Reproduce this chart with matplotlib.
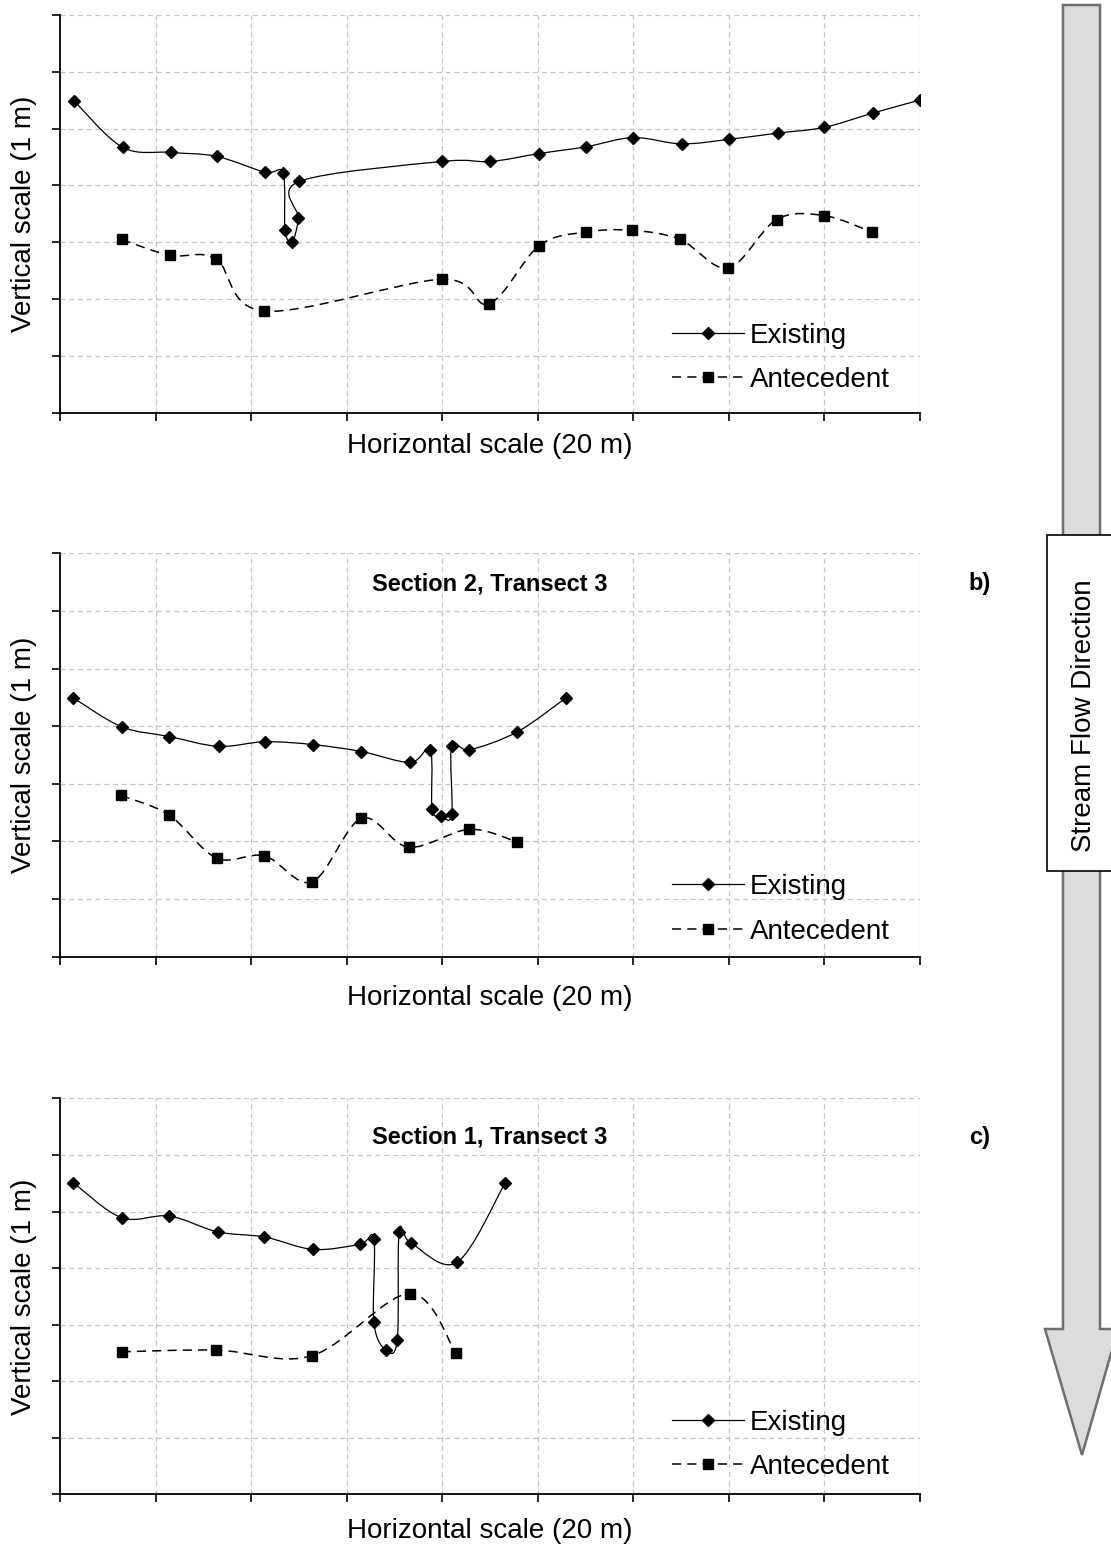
import numpy as np
import matplotlib.pyplot as plt
from matplotlib.path import Path
from matplotlib.patches import PathPatch, Polygon, Rectangle
from matplotlib.lines import Line2D

plt.rcParams['font.family'] = ['Liberation Sans', 'DejaVu Sans']

# ---------- dados (x e y em metros) ----------
# painel a) (sem titulo visivel)
a_exist_x = [2.9, 13.1, 23.2, 32.8, 42.9, 46.7, 47.1, 48.6, 49.9, 50.1, 79.9,
             90.1, 100.3, 110.2, 120.0, 130.1, 140.1, 150.3, 160.0, 170.1, 180.0]
a_exist_y = [5.49, 4.67, 4.58, 4.51, 4.23, 4.21, 3.21, 3.01, 3.42, 4.07, 4.42,
             4.42, 4.56, 4.68, 4.84, 4.73, 4.81, 4.92, 5.02, 5.27, 5.50]
a_ante_x = [12.9, 23.0, 32.6, 42.8, 79.9, 89.8, 100.3, 110.1, 119.8, 129.8,
            139.9, 150.0, 159.9, 170.0]
a_ante_y = [3.05, 2.77, 2.71, 1.79, 2.35, 1.92, 2.94, 3.18, 3.21, 3.05,
            2.55, 3.40, 3.47, 3.18]

# painel b) Section 2, Transect 3
b_exist_x = [2.8, 12.9, 22.9, 33.2, 42.9, 53.0, 63.1, 73.3, 77.5, 77.9, 79.8,
             82.0, 82.0, 85.7, 95.7, 105.9]
b_exist_y = [4.49, 3.99, 3.82, 3.65, 3.73, 3.68, 3.56, 3.37, 3.59, 2.56, 2.44,
             2.47, 3.66, 3.59, 3.90, 4.49]
b_ante_x = [12.7, 22.8, 32.8, 42.8, 52.8, 63.1, 73.0, 85.7, 95.7]
b_ante_y = [2.80, 2.46, 1.71, 1.75, 1.30, 2.40, 1.90, 2.21, 1.99]

# painel c) Section 1, Transect 3
c_exist_x = [2.8, 12.9, 22.9, 33.0, 42.8, 53.0, 62.8, 65.7, 65.7, 68.2, 70.6,
             71.0, 73.4, 83.1, 93.2]
c_exist_y = [5.51, 4.89, 4.92, 4.64, 4.55, 4.33, 4.42, 4.51, 3.04, 2.55, 2.73,
             4.64, 4.45, 4.10, 5.51]
c_ante_x = [12.9, 32.7, 52.7, 73.2, 82.9]
c_ante_y = [2.52, 2.55, 2.45, 3.55, 2.49]

panels = [
    dict(ex=a_exist_x, ey=a_exist_y, ax_=a_ante_x, ay=a_ante_y, title=None, tag=None),
    dict(ex=b_exist_x, ey=b_exist_y, ax_=b_ante_x, ay=b_ante_y,
         title='Section 2, Transect 3', tag='b)'),
    dict(ex=c_exist_x, ey=c_exist_y, ax_=c_ante_x, ay=c_ante_y,
         title='Section 1, Transect 3', tag='c)'),
]

# posicoes dos eixos [left, bottom, width, height] e ajustes finos
RECTS = [[0.054, 0.7334, 0.774, 0.2571],
         [0.054, 0.3824, 0.774, 0.2604],
         [0.054, 0.0353, 0.774, 0.2556]]
XLAB_Y = [-0.083, -0.102, -0.093]
LEG_Y = [0.227, 0.205, 0.214]
TITLE_Y = [None, 0.924, 0.902]

FS = 20


def smooth_path(xs, ys):
    """Curva suavizada (tipo Excel): Catmull-Rom convertido em Bezier."""
    pts = np.column_stack([xs, ys]).astype(float)
    n = len(pts)
    verts = [pts[0]]
    codes = [Path.MOVETO]
    for i in range(n - 1):
        p0 = pts[i - 1] if i > 0 else pts[i]
        p1 = pts[i]
        p2 = pts[i + 1]
        p3 = pts[i + 2] if i + 2 < n else pts[i + 1]
        verts += [p1 + (p2 - p0) / 6, p2 - (p3 - p1) / 6, p2]
        codes += [Path.CURVE4] * 3
    return Path(verts, codes)


fig = plt.figure(figsize=(11.11, 15.49), dpi=100)

for k, p in enumerate(panels):
    ax = fig.add_axes(RECTS[k])
    ax.set_xlim(0, 180)
    ax.set_ylim(0, 7)
    ax.set_xticks(np.arange(0, 181, 20))
    ax.set_yticks(np.arange(0, 8, 1))
    ax.tick_params(labelbottom=False, labelleft=False, length=6, width=1.2,
                   direction='out', color='black')
    ax.grid(True, color='#c4c4c4', linestyle=(0, (4, 3)), linewidth=0.9)
    ax.set_axisbelow(True)
    for s in ('top', 'right'):
        ax.spines[s].set_visible(False)
    for s in ('left', 'bottom'):
        ax.spines[s].set_linewidth(1.3)

    # existente: linha continua suavizada + losangos
    ax.add_patch(PathPatch(smooth_path(p['ex'], p['ey']), facecolor='none',
                           edgecolor='black', lw=0.9, zorder=3))
    ax.plot(p['ex'], p['ey'], linestyle='none', marker='D', ms=6.3,
            color='black', zorder=4)
    # antecedente: tracejada suavizada + quadrados
    ax.add_patch(PathPatch(smooth_path(p['ax_'], p['ay']), facecolor='none',
                           edgecolor='black', lw=1.1, linestyle=(0, (6, 4)),
                           zorder=3))
    ax.plot(p['ax_'], p['ay'], linestyle='none', marker='s', ms=7.5,
            color='black', zorder=4)

    handles = [
        Line2D([], [], color='black', lw=0.9, marker='D', ms=6),
        Line2D([], [], color='black', lw=1.1, linestyle=(0, (6, 4)),
               marker='s', ms=7),
    ]
    ax.legend(handles, ['Existing', 'Antecedent'], loc='upper left',
              bbox_to_anchor=(0.712, LEG_Y[k]), frameon=False, fontsize=FS,
              handlelength=2.6, handletextpad=0.2, labelspacing=0.67,
              borderpad=0, borderaxespad=0, numpoints=1)

    ax.text(0.5, XLAB_Y[k], 'Horizontal scale (20 m)', transform=ax.transAxes,
            ha='center', va='center', fontsize=FS)
    ax.text(-0.042, 0.5, 'Vertical scale (1 m)', transform=ax.transAxes,
            ha='center', va='center', rotation=90, fontsize=FS)
    if p['title']:
        ax.text(0.5, TITLE_Y[k], p['title'], transform=ax.transAxes,
                ha='center', va='center', fontsize=17, fontweight='bold')
        ax.text(1.069, TITLE_Y[k], p['tag'], transform=ax.transAxes,
                ha='center', va='center', fontsize=17, fontweight='bold')

# seta da direcao do fluxo (coordenadas em pixels da figura)
ov = fig.add_axes([0, 0, 1, 1], zorder=-1)
ov.set_xlim(0, 1111)
ov.set_ylim(1549, 0)
ov.axis('off')
arrow = [(1063, 5), (1100, 5), (1100, 1329), (1118, 1329), (1082, 1455),
         (1045, 1329), (1063, 1329)]
ov.add_patch(Polygon(arrow, closed=True, facecolor='#dcdcdc',
                     edgecolor='#6e6e6e', lw=1.8))
ov.add_patch(Rectangle((1047, 535), 70, 336, facecolor='white',
                       edgecolor='black', lw=1.2))
ov.text(1084, 716, 'Stream Flow Direction', rotation=90, ha='center',
        va='center', fontsize=FS)

fig.savefig('out.png', dpi=100)
